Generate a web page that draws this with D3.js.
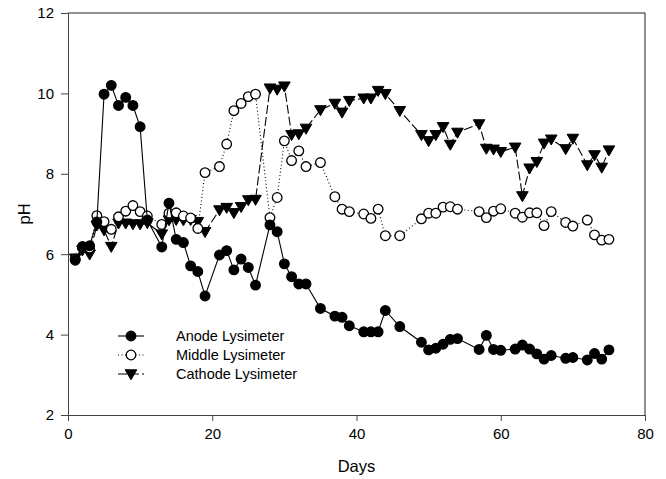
<!DOCTYPE html>
<html>
<head>
<meta charset="utf-8">
<script src="https://cdn.jsdelivr.net/npm/d3@7"></script>
<style>
  body { margin: 0; background: #fff; }
  svg { display: block; font-family: "Liberation Sans", Arial, sans-serif; }
</style>
</head>
<body>
<svg id="chart" width="666" height="479"></svg>
<script>
// sampling days (same for all three lysimeters)
const days = [1,2,3,4,5,6,7,8,9,10,11,13,14,15,16,17,18,19,21,22,23,24,25,26,28,29,30,31,32,33,35,37,38,39,41,42,43,44,46,49,50,51,52,53,54,57,58,59,60,62,63,64,65,66,67,69,70,72,73,74,75];

const anode = [5.85,6.19,6.21,6.8,9.98,10.2,9.7,9.9,9.7,9.17,6.85,6.18,7.27,6.37,6.29,5.71,5.57,4.96,5.98,6.09,5.61,5.88,5.67,5.23,6.73,6.56,5.76,5.44,5.26,5.26,4.65,4.46,4.43,4.22,4.07,4.07,4.07,4.6,4.2,3.81,3.62,3.66,3.76,3.88,3.9,3.63,3.98,3.63,3.61,3.64,3.74,3.64,3.52,3.39,3.48,3.41,3.43,3.37,3.53,3.39,3.62];

const middle = [5.88,6.16,6.15,6.96,6.81,6.62,6.93,7.07,7.21,7.06,6.95,6.74,7.02,7.03,6.95,6.9,6.64,8.03,8.18,8.74,9.57,9.75,9.92,9.98,6.91,7.41,8.82,8.33,8.57,8.18,8.28,7.43,7.12,7.06,7.0,6.89,7.12,6.46,6.46,6.88,7.02,7.02,7.17,7.18,7.12,7.06,6.91,7.07,7.13,7.02,6.92,7.03,7.03,6.71,7.06,6.79,6.70,6.85,6.48,6.35,6.37];

const cathode = [5.9,6.1,6.0,6.72,6.6,6.19,6.77,6.77,6.75,6.75,6.78,6.5,6.85,6.86,6.85,6.86,6.81,6.56,7.1,7.16,7.03,7.18,7.35,7.36,10.13,10.1,10.18,8.97,8.99,9.13,9.59,9.75,9.53,9.82,9.88,9.88,10.07,9.99,9.57,8.97,8.82,8.97,9.17,8.73,9.03,9.24,8.63,8.61,8.55,8.66,7.45,8.14,8.3,8.76,8.86,8.62,8.88,8.22,8.47,8.16,8.59];

const xTicks = [0,20,40,60,80];
const yTicks = [2,4,6,8,10,12];

const seriesNames = ["Anode Lysimeter","Middle Lysimeter","Cathode Lysimeter"];

const svg = d3.select("#chart");
const m = {left: 68, right: 645, top: 13, bottom: 415};

const x = d3.scaleLinear().domain([0,80]).range([m.left,m.right]);
const y = d3.scaleLinear().domain([2,12]).range([m.bottom,m.top]);

// frame: top and right edges
svg.append("path")
  .attr("d", `M${m.left},${m.top}H${m.right}V${m.bottom}`)
  .attr("fill", "none").attr("stroke", "#222").attr("stroke-width", 1);

const xAxis = svg.append("g")
  .attr("transform", `translate(0,${m.bottom})`)
  .call(d3.axisBottom(x).tickValues(xTicks).tickSize(6).tickPadding(7));
const yAxis = svg.append("g")
  .attr("transform", `translate(${m.left},0)`)
  .call(d3.axisLeft(y).tickValues(yTicks).tickSize(7).tickPadding(7));

[xAxis, yAxis].forEach(g => {
  g.select(".domain").attr("stroke", "#444");
  g.selectAll(".tick line").attr("stroke", "#444");
  g.selectAll("text").attr("font-size", 15).attr("fill", "#000")
    .attr("font-family", "Liberation Sans, Arial, sans-serif");
});

svg.append("text")
  .attr("x", (m.left + m.right) / 2).attr("y", 472)
  .attr("text-anchor", "middle").attr("font-size", 16.5)
  .text("Days");
svg.append("text")
  .attr("transform", `translate(30,${(m.top + m.bottom) / 2}) rotate(-90)`)
  .attr("text-anchor", "middle").attr("font-size", 16.5)
  .text("pH");

const series = [
  {name: seriesNames[0], vals: anode, dash: null, marker: "circle", fill: "#000"},
  {name: seriesNames[1], vals: middle, dash: "1,2.5", marker: "circle", fill: "#fff"},
  {name: seriesNames[2], vals: cathode, dash: "9,3", marker: "tri", fill: "#000"}
];

const line = d3.line().x(d => x(d[0])).y(d => y(d[1]));
const triPath = "M-5.8,-4.2L5.8,-4.2L0,5.8Z";

function drawMarker(g, s) {
  if (s.marker === "circle") {
    g.append("circle").attr("r", 4.8)
      .attr("fill", s.fill).attr("stroke", "#000").attr("stroke-width", 1.3);
  } else {
    g.append("path").attr("d", triPath).attr("fill", "#000").attr("stroke", "#000");
  }
}

// draw cathode first, then middle, then anode on top
[2,1,0].forEach(i => {
  const s = series[i];
  const pts = days.map((d, k) => [d, s.vals[k]]);
  const g = svg.append("g");
  g.append("path").datum(pts)
    .attr("d", line).attr("fill", "none")
    .attr("stroke", "#000").attr("stroke-width", 1.1)
    .attr("stroke-dasharray", s.dash);
  g.selectAll("g.m").data(pts).join("g")
    .attr("class", "m")
    .attr("transform", d => `translate(${x(d[0])},${y(d[1])})`)
    .each(function() { drawMarker(d3.select(this), s); });
});

// legend
const legend = svg.append("g");
series.forEach((s, i) => {
  const ly = 336 + i * 19;
  legend.append("line")
    .attr("x1", 118).attr("x2", 144).attr("y1", ly).attr("y2", ly)
    .attr("stroke", "#000").attr("stroke-width", 1.1)
    .attr("stroke-dasharray", s.dash);
  const mk = legend.append("g").attr("transform", `translate(131,${ly})`);
  drawMarker(mk, s);
  legend.append("text")
    .attr("x", 176).attr("y", ly).attr("dy", "0.35em")
    .attr("font-size", 14.5).text(s.name);
});
</script>
</body>
</html>
